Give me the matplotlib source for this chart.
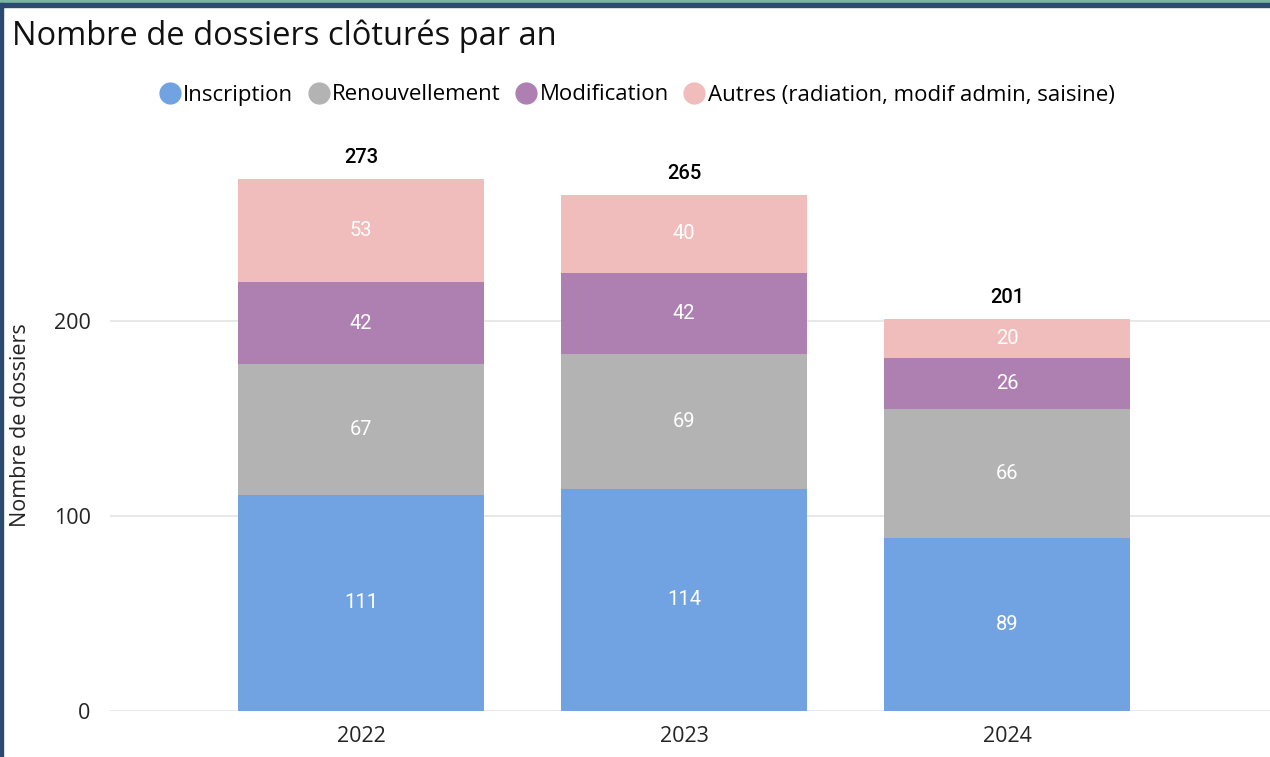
import matplotlib.pyplot as plt
import numpy as np
from matplotlib.lines import Line2D

years = ["2022", "2023", "2024"]
series_names = [
    "Inscription",
    "Renouvellement",
    "Modification",
    "Autres (radiation, modif admin, saisine)",
]
inscription = [111, 114, 89]
renouvellement = [67, 69, 66]
modification = [42, 42, 26]
autres = [53, 40, 20]
totals = [273, 265, 201]

colors = ["#71A3E2", "#B3B3B3", "#AE80B2", "#F0BCBC"]

plt.rcParams["font.family"] = ["Open Sans", "DejaVu Sans"]

fig = plt.figure(figsize=(12.7, 7.57), dpi=100)
ax = fig.add_axes([110 / 1270, 1 - 711 / 757, 1 - 110 / 1270, (711 - 140) / 757])

x = np.arange(len(years))
bottom = np.zeros(len(years))
for name, vals, col in zip(series_names, [inscription, renouvellement, modification, autres], colors):
    vals = np.array(vals, dtype=float)
    ax.bar(x, vals, bottom=bottom, width=0.76, color=col, zorder=3)
    for xi, b, v in zip(x, bottom, vals):
        ax.text(xi, b + v / 2, f"{int(v)}", ha="center", va="center",
                color="white", fontsize=14.5, family=["Roboto", "DejaVu Sans"], zorder=4)
    bottom += vals

for xi, t in zip(x, totals):
    ax.text(xi, t + 11, f"{t}", ha="center", va="center", color="black",
            fontsize=14.5, fontweight="medium", family=["Roboto", "DejaVu Sans"])

ax.set_xlim(-0.777, 2.814)
ax.set_ylim(0, 293)
ax.set_yticks([0, 100, 200])
ax.grid(axis="y", color="#E6E6E6", linewidth=1.3, zorder=0)
ax.set_axisbelow(True)
for s in ax.spines.values():
    s.set_visible(False)
ax.tick_params(axis="both", length=0, labelsize=15.5, colors="#252423")
ax.tick_params(axis="y", pad=14)
ax.tick_params(axis="x", pad=11)
ax.set_xticks(x)
ax.set_xticklabels(years)
ax.set_ylabel("Nombre de dossiers", fontsize=15.5, color="#252423")
ax.yaxis.set_label_coords((31 - 110) / 1160, 0.5)

fig.text(12 / 1270, 1 - 36 / 757, "Nombre de dossiers clôturés par an",
         fontsize=23.5, ha="left", va="center", color="#111111")

handles = [Line2D([0], [0], marker="o", linestyle="", markersize=15,
                  markerfacecolor=c, markeredgecolor=c) for c in colors]
fig.legend(handles, series_names, loc="center", bbox_to_anchor=(636 / 1270, 1 - 95 / 757),
           ncol=4, frameon=False, fontsize=16, handletextpad=0.05,
           columnspacing=0.6, handlelength=1.1)

# frame borders
fig.add_artist(plt.Rectangle((0, 1 - 3 / 757), 1, 3 / 757, transform=fig.transFigure,
                             color="#7AB5A0", zorder=10))
fig.add_artist(plt.Rectangle((0, 1 - 7 / 757), 1, 4 / 757, transform=fig.transFigure,
                             color="#2A4A70", zorder=10))
fig.add_artist(plt.Rectangle((0, 0), 2.5 / 1270, 1 - 3 / 757, transform=fig.transFigure,
                             color="#2A4A70", zorder=10))

fig.savefig("out.png", dpi=100)
